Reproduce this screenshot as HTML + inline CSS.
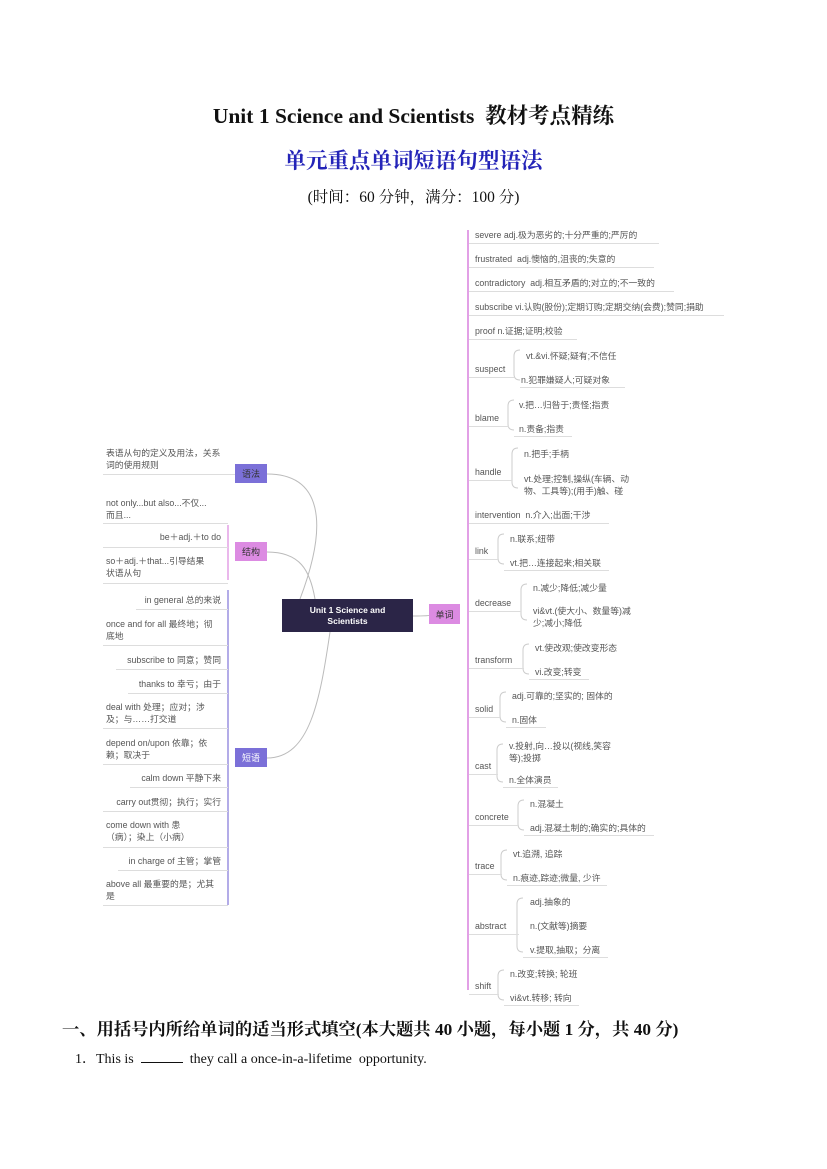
<!DOCTYPE html>
<html><head><meta charset="utf-8"><style>
body{margin:0;width:827px;height:1169px;background:#fff;position:relative;overflow:hidden;font-family:"Liberation Sans","Noto Sans CJK SC",sans-serif}
.t{position:absolute;font-size:8.8px;color:#555;white-space:nowrap;line-height:12px}
.u{position:absolute;height:1px;background:#ddd}
.n{position:absolute;font-size:9px;display:flex;align-items:center;justify-content:center;color:#333}
.s{font-family:"Liberation Serif","Noto Serif CJK SC",serif}
.w{position:absolute;font-size:8.8px;color:#555;line-height:12px;white-space:normal}
</style></head><body>
<div class="s" style="position:absolute;top:99px;width:827px;text-align:center;font-size:21.5px;font-weight:bold;color:#111">Unit 1 Science and Scientists&nbsp; 教材考点精练</div>
<div class="s" style="position:absolute;top:144px;width:827px;text-align:center;font-size:21.5px;font-weight:bold;color:#2424b8">单元重点单词短语句型语法</div>
<div class="s" style="position:absolute;top:185px;width:827px;text-align:center;font-size:15.5px;color:#111">(时间：60 分钟，满分：100 分)</div>

<svg width="827" height="1169" style="position:absolute;left:0;top:0">
<g fill="none" stroke="#bbb" stroke-width="1">
<path d="M413 616 C 440 616 430 614 429 614"/>
<path d="M300 599 C 330 520 320 474 267 474"/>
<path d="M315 599 C 310 570 300 552 267 552"/>
<path d="M330 632 C 320 700 310 758 267 758"/>
</g>
<line x1="468" y1="230" x2="468" y2="990" stroke="#e2a0e6" stroke-width="2"/>
<line x1="228" y1="525" x2="228" y2="580" stroke="#e2a0e6" stroke-width="1.5"/>
<line x1="228" y1="590" x2="228" y2="905" stroke="#9a90e0" stroke-width="1.5"/>
<g fill="none" stroke="#ccc">
<path d="M520 350 q-6 0 -6 6 v18 q0 6 6 6"/>
<path d="M514 400 q-6 0 -6 6 v18 q0 6 6 6"/>
<path d="M518 448 q-6 0 -6 6 v28 q0 6 6 6"/>
<path d="M504 534 q-6 0 -6 6 v18 q0 6 6 6"/>
<path d="M527 584 q-6 0 -6 6 v24 q0 6 6 6"/>
<path d="M529 644 q-6 0 -6 6 v18 q0 6 6 6"/>
<path d="M506 692 q-6 0 -6 6 v18 q0 6 6 6"/>
<path d="M503 744 q-6 0 -6 6 v26 q0 6 6 6"/>
<path d="M524 800 q-6 0 -6 6 v18 q0 6 6 6"/>
<path d="M507 850 q-6 0 -6 6 v18 q0 6 6 6"/>
<path d="M523 898 q-6 0 -6 6 v42 q0 6 6 6"/>
<path d="M504 970 q-6 0 -6 6 v18 q0 6 6 6"/>
</g>
</svg>

<div class="n" style="left:282px;top:599px;width:131px;height:33px;background:#2b2547;color:#fff;font-weight:bold;font-size:8.5px;text-align:center;line-height:11px">Unit 1 Science and<br>Scientists</div>
<div class="n" style="left:429px;top:604px;width:31px;height:20px;background:#dc8be2">单词</div>
<div class="n" style="left:235px;top:464px;width:32px;height:19px;background:#7b70d8">语法</div>
<div class="n" style="left:235px;top:542px;width:32px;height:19px;background:#dc8be2">结构</div>
<div class="n" style="left:235px;top:748px;width:32px;height:19px;background:#7b70d8;color:#fff">短语</div>

<!-- right -->
<div class="t" style="left:475px;top:229px">severe adj.极为恶劣的;十分严重的;严厉的</div><div class="u" style="left:469px;top:243px;width:190px"></div>
<div class="t" style="left:475px;top:253px">frustrated&nbsp; adj.懊恼的,沮丧的;失意的</div><div class="u" style="left:469px;top:267px;width:185px"></div>
<div class="t" style="left:475px;top:277px">contradictory&nbsp; adj.相互矛盾的;对立的;不一致的</div><div class="u" style="left:469px;top:291px;width:205px"></div>
<div class="t" style="left:475px;top:301px">subscribe vi.认购(股份);定期订购;定期交纳(会费);赞同;捐助</div><div class="u" style="left:469px;top:315px;width:255px"></div>
<div class="t" style="left:475px;top:325px">proof n.证据;证明;校验</div><div class="u" style="left:469px;top:339px;width:108px"></div>

<div class="t" style="left:475px;top:363px">suspect</div><div class="u" style="left:469px;top:377px;width:45px"></div>
<div class="t" style="left:526px;top:350px">vt.&amp;vi.怀疑;疑有;不信任</div>
<div class="t" style="left:521px;top:374px">n.犯罪嫌疑人;可疑对象</div><div class="u" style="left:520px;top:387px;width:105px"></div>
<div class="t" style="left:475px;top:412px">blame</div><div class="u" style="left:469px;top:426px;width:40px"></div>
<div class="t" style="left:519px;top:399px">v.把…归咎于;责怪;指责</div>
<div class="t" style="left:519px;top:423px">n.责备;指责</div><div class="u" style="left:514px;top:436px;width:58px"></div>
<div class="t" style="left:475px;top:466px">handle</div><div class="u" style="left:469px;top:480px;width:43px"></div>
<div class="t" style="left:524px;top:448px">n.把手;手柄</div>
<div class="w" style="left:524px;top:473px;width:112px">vt.处理;控制,操纵(车辆、动物、工具等);(用手)触、碰</div>
<div class="t" style="left:475px;top:509px">intervention&nbsp; n.介入;出面;干涉</div><div class="u" style="left:469px;top:523px;width:140px"></div>

<div class="t" style="left:475px;top:545px">link</div><div class="u" style="left:469px;top:559px;width:30px"></div>
<div class="t" style="left:510px;top:533px">n.联系;纽带</div>
<div class="t" style="left:510px;top:557px">vt.把…连接起来;相关联</div><div class="u" style="left:504px;top:570px;width:105px"></div>
<div class="t" style="left:475px;top:597px">decrease</div><div class="u" style="left:469px;top:611px;width:52px"></div>
<div class="t" style="left:533px;top:582px">n.减少;降低;减少量</div>
<div class="w" style="left:533px;top:605px;width:106px">vi&amp;vt.(使大小、数量等)减少;减小;降低</div>
<div class="t" style="left:475px;top:654px">transform</div><div class="u" style="left:469px;top:668px;width:55px"></div>
<div class="t" style="left:535px;top:642px">vt.使改观;使改变形态</div>
<div class="t" style="left:535px;top:666px">vi.改变;转变</div><div class="u" style="left:529px;top:679px;width:60px"></div>
<div class="t" style="left:475px;top:703px">solid</div><div class="u" style="left:469px;top:717px;width:32px"></div>
<div class="t" style="left:512px;top:690px">adj.可靠的;坚实的; 固体的</div>
<div class="t" style="left:512px;top:714px">n.固体</div><div class="u" style="left:506px;top:727px;width:40px"></div>
<div class="t" style="left:475px;top:760px">cast</div><div class="u" style="left:469px;top:774px;width:29px"></div>
<div class="w" style="left:509px;top:740px;width:112px">v.投射,向…投以(视线,笑容等);投掷</div>
<div class="t" style="left:509px;top:774px">n.全体演员</div><div class="u" style="left:503px;top:787px;width:55px"></div>
<div class="t" style="left:475px;top:811px">concrete</div><div class="u" style="left:469px;top:825px;width:50px"></div>
<div class="t" style="left:530px;top:798px">n.混凝土</div>
<div class="t" style="left:530px;top:822px">adj.混凝土制的;确实的;具体的</div><div class="u" style="left:524px;top:835px;width:130px"></div>
<div class="t" style="left:475px;top:860px">trace</div><div class="u" style="left:469px;top:874px;width:33px"></div>
<div class="t" style="left:513px;top:848px">vt.追溯, 追踪</div>
<div class="t" style="left:513px;top:872px">n.痕迹,踪迹;微量, 少许</div><div class="u" style="left:507px;top:885px;width:100px"></div>
<div class="t" style="left:475px;top:920px">abstract</div><div class="u" style="left:469px;top:934px;width:50px"></div>
<div class="t" style="left:530px;top:896px">adj.抽象的</div>
<div class="t" style="left:530px;top:920px">n.(文献等)摘要</div>
<div class="t" style="left:530px;top:944px">v.提取,抽取；分离</div><div class="u" style="left:523px;top:957px;width:85px"></div>
<div class="t" style="left:475px;top:980px">shift</div><div class="u" style="left:469px;top:994px;width:30px"></div>
<div class="t" style="left:510px;top:968px">n.改变;转换; 轮班</div>
<div class="t" style="left:510px;top:992px">vi&amp;vt.转移; 转向</div><div class="u" style="left:504px;top:1005px;width:75px"></div>

<!-- left -->
<div class="w" style="left:106px;top:447px;width:115px">表语从句的定义及用法，关系词的使用规则</div><div class="u" style="left:103px;top:474px;width:132px"></div>
<div class="w" style="left:106px;top:497px;width:118px">not only...but also...不仅...<br>而且...</div><div class="u" style="left:103px;top:523px;width:125px"></div>
<div class="t" style="left:106px;top:531px;width:115px;text-align:right">be＋adj.＋to do</div><div class="u" style="left:103px;top:547px;width:125px"></div>
<div class="w" style="left:106px;top:555px;width:115px">so＋adj.＋that...引导结果<br>状语从句</div><div class="u" style="left:103px;top:583px;width:125px"></div>
<div class="t" style="left:106px;top:594px;width:115px;text-align:right">in general 总的来说</div><div class="u" style="left:136px;top:609px;width:92px"></div>
<div class="w" style="left:106px;top:618px;width:118px">once and for all 最终地；彻<br>底地</div><div class="u" style="left:103px;top:645px;width:125px"></div>
<div class="t" style="left:106px;top:654px;width:115px;text-align:right">subscribe to 同意；赞同</div><div class="u" style="left:116px;top:669px;width:112px"></div>
<div class="t" style="left:106px;top:678px;width:115px;text-align:right">thanks to 幸亏；由于</div><div class="u" style="left:128px;top:693px;width:100px"></div>
<div class="w" style="left:106px;top:701px;width:118px">deal with 处理；应对；涉<br>及；与……打交道</div><div class="u" style="left:103px;top:728px;width:125px"></div>
<div class="w" style="left:106px;top:737px;width:118px">depend on/upon 依靠；依<br>赖；取决于</div><div class="u" style="left:103px;top:764px;width:125px"></div>
<div class="t" style="left:106px;top:772px;width:115px;text-align:right">calm down 平静下来</div><div class="u" style="left:130px;top:787px;width:98px"></div>
<div class="t" style="left:106px;top:796px;width:115px;text-align:right">carry out贯彻；执行；实行</div><div class="u" style="left:103px;top:811px;width:125px"></div>
<div class="w" style="left:106px;top:819px;width:118px">come down with 患<br>（病）；染上（小病）</div><div class="u" style="left:103px;top:847px;width:125px"></div>
<div class="t" style="left:106px;top:855px;width:115px;text-align:right">in charge of 主管；掌管</div><div class="u" style="left:118px;top:870px;width:110px"></div>
<div class="w" style="left:106px;top:878px;width:118px">above all 最重要的是；尤其<br>是</div><div class="u" style="left:103px;top:905px;width:125px"></div>

<div class="s" style="position:absolute;left:62px;top:1015px;font-size:17.3px;font-weight:bold;color:#111;white-space:nowrap">一、用括号内所给单词的适当形式填空(本大题共 40 小题，每小题 1 分，共 40 分)</div>
<div class="s" style="position:absolute;left:75px;top:1048px;font-size:14px;color:#111;white-space:nowrap">1．This is &nbsp;<span style="display:inline-block;width:42px;border-bottom:1px solid #111"></span>&nbsp; they call a once-in-a-lifetime&nbsp; opportunity.</div>
</body></html>
